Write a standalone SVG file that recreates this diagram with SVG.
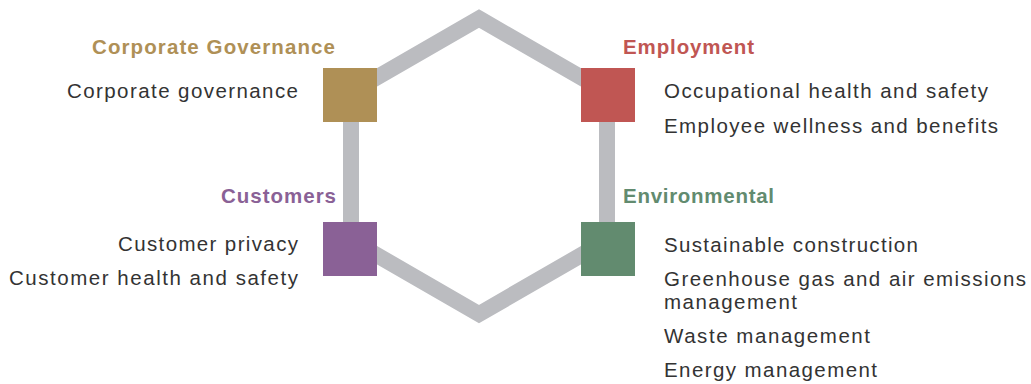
<svg xmlns="http://www.w3.org/2000/svg" width="1031" height="384" viewBox="0 0 1031 384">
<style>
.edge{fill:none;stroke:#BBBCC0;stroke-width:16;stroke-linejoin:miter}
.t{font-family:"Liberation Sans",Arial,sans-serif;font-weight:bold;font-size:20.5px}
.b{font-family:"Liberation Sans",Arial,sans-serif;font-size:20.5px;fill:#333333}
.e{text-anchor:end}
</style>
<rect width="1031" height="384" fill="#ffffff"/>
<g id="connectors">
<path class="edge" d="M479,18.5 L607,92.4 L607,240.2 L479,314.1 L351,240.2 L351,92.4 Z"/>
</g>
<g id="corporate-governance">
<rect x="323" y="68" width="54" height="54" fill="#AF9056"/>
<text class="t" x="92" y="54" fill="#AF9056" textLength="243" lengthAdjust="spacing">Corporate Governance</text>
<text class="b e" x="298" y="98" textLength="231" lengthAdjust="spacing">Corporate governance</text>
</g>
<g id="employment">
<rect x="581" y="68" width="54" height="54" fill="#C05653"/>
<text class="t" x="623" y="54" fill="#C05653" textLength="131" lengthAdjust="spacing">Employment</text>
<text class="b" x="664" y="98" textLength="324" lengthAdjust="spacing">Occupational health and safety</text>
<text class="b" x="664" y="133" textLength="334" lengthAdjust="spacing">Employee wellness and benefits</text>
</g>
<g id="customers">
<rect x="323" y="222" width="54" height="54" fill="#8A6196"/>
<text class="t" x="221" y="203" fill="#8A6196" textLength="115" lengthAdjust="spacing">Customers</text>
<text class="b e" x="298" y="251" textLength="180" lengthAdjust="spacing">Customer privacy</text>
<text class="b e" x="298" y="285" textLength="289" lengthAdjust="spacing">Customer health and safety</text>
</g>
<g id="environmental">
<rect x="581" y="222" width="54" height="54" fill="#628B6F"/>
<text class="t" x="623" y="203" fill="#628B6F" textLength="151" lengthAdjust="spacing">Environmental</text>
<text class="b" x="664" y="252" textLength="254" lengthAdjust="spacing">Sustainable construction</text>
<text class="b" x="664" y="286" textLength="362" lengthAdjust="spacing">Greenhouse gas and air emissions</text>
<text class="b" x="664" y="309" textLength="133" lengthAdjust="spacing">management</text>
<text class="b" x="664" y="343" textLength="206" lengthAdjust="spacing">Waste management</text>
<text class="b" x="664" y="377" textLength="213" lengthAdjust="spacing">Energy management</text>
</g>
</svg>
